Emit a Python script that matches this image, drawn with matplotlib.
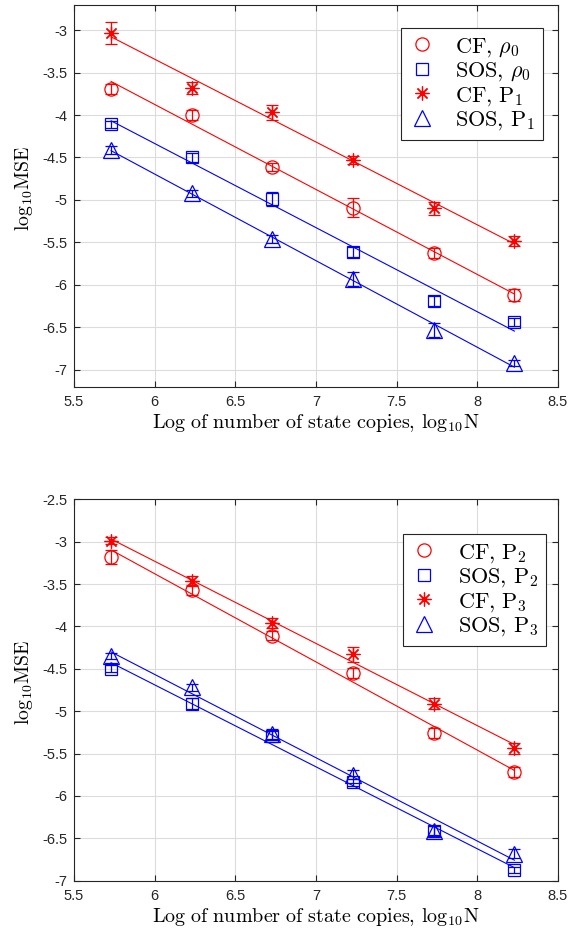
import numpy as np
import matplotlib
matplotlib.use('Agg')
import matplotlib.pyplot as plt

plt.rcParams['mathtext.fontset'] = 'cm'
plt.rcParams['axes.unicode_minus'] = False
plt.rcParams['font.family'] = ['Liberation Sans', 'DejaVu Sans']

# log10 of number of copies
logN = [5.73, 6.23, 6.73, 7.23, 7.73, 8.23]

# top panel: rho_0 and P_1
cf_rho0 = [-3.69, -4.00, -4.61, -5.09, -5.63, -6.12]
cf_rho0_err = [0.06, 0.06, 0.05, 0.11, 0.06, 0.07]
sos_rho0 = [-4.11, -4.50, -4.99, -5.61, -6.19, -6.44]
sos_rho0_err = [0.04, 0.05, 0.08, 0.06, 0.06, 0.05]
cf_p1 = [-3.03, -3.68, -3.97, -4.53, -5.10, -5.48]
cf_p1_err = [0.13, 0.07, 0.09, 0.05, 0.08, 0.06]
sos_p1 = [-4.41, -4.92, -5.46, -5.93, -6.53, -6.92]
sos_p1_err = [0.05, 0.04, 0.05, 0.08, 0.08, 0.04]

# bottom panel: P_2 and P_3
cf_p2 = [-3.18, -3.57, -4.11, -4.55, -5.26, -5.72]
cf_p2_err = [0.08, 0.06, 0.05, 0.06, 0.06, 0.06]
sos_p2 = [-4.50, -4.91, -5.29, -5.84, -6.41, -6.875]
sos_p2_err = [0.04, 0.07, 0.05, 0.04, 0.05, 0.04]
cf_p3 = [-2.99, -3.46, -3.96, -4.33, -4.91, -5.44]
cf_p3_err = [0.04, 0.06, 0.06, 0.09, 0.06, 0.06]
sos_p3 = [-4.35, -4.72, -5.27, -5.75, -6.41, -6.68]
sos_p3_err = [0.04, 0.04, 0.06, 0.05, 0.06, 0.05]

top_series = [
    (cf_rho0, cf_rho0_err, 'r', 'o', 9.5, r'$\mathrm{CF},\,\rho_0$'),
    (sos_rho0, sos_rho0_err, 'b', 's', 8, r'$\mathrm{SOS},\,\rho_0$'),
    (cf_p1, cf_p1_err, 'r', (8, 2, 0), 10, r'$\mathrm{CF},\,\mathrm{P}_1$'),
    (sos_p1, sos_p1_err, 'b', '^', 11, r'$\mathrm{SOS},\,\mathrm{P}_1$'),
]
bottom_series = [
    (cf_p2, cf_p2_err, 'r', 'o', 9.5, r'$\mathrm{CF},\,\mathrm{P}_2$'),
    (sos_p2, sos_p2_err, 'b', 's', 8, r'$\mathrm{SOS},\,\mathrm{P}_2$'),
    (cf_p3, cf_p3_err, 'r', (8, 2, 0), 10, r'$\mathrm{CF},\,\mathrm{P}_3$'),
    (sos_p3, sos_p3_err, 'b', '^', 11, r'$\mathrm{SOS},\,\mathrm{P}_3$'),
]

axcol = '#262626'
fig = plt.figure(figsize=(5.68, 9.32), dpi=100)
ax1 = fig.add_axes([0.1303, 0.5851, 0.852, 0.4099])
ax2 = fig.add_axes([0.1303, 0.0551, 0.852, 0.4092])


def draw(ax, series, ylim, yticks, anchor):
    x = np.array(logN)
    for y, err, c, m, ms, lab in series:
        y = np.array(y)
        k = np.polyfit(x, y, 1)
        ax.plot(x, np.polyval(k, x), color=c, lw=0.8)
        ax.errorbar(x, y, yerr=err, fmt='none', ecolor=c, elinewidth=0.9, capsize=4, capthick=0.9)
        ax.plot(x, y, linestyle='none', marker=m, ms=ms, mfc='none', mec=c, mew=0.9, label=lab)
    ax.set_xlim(5.5, 8.5)
    ax.set_ylim(*ylim)
    ax.set_xticks([5.5, 6, 6.5, 7, 7.5, 8, 8.5])
    ax.set_xticklabels(['5.5', '6', '6.5', '7', '7.5', '8', '8.5'])
    ax.set_yticks(yticks)
    ax.set_yticklabels(['%g' % t for t in yticks])
    ax.grid(True, color='#dcdcdc', lw=0.8)
    ax.set_axisbelow(True)
    ax.tick_params(direction='in', top=True, right=True, labelsize=10.5, colors=axcol, length=4, width=0.8)
    ax.tick_params(axis='x', pad=6)
    ax.tick_params(axis='y', pad=5)
    for s in ax.spines.values():
        s.set_color(axcol)
        s.set_linewidth(0.8)
    ax.set_xlabel(r'$\mathrm{Log\ of\ number\ of\ state\ copies,\,log_{10}N}$', fontsize=14.5, labelpad=2)
    ax.set_ylabel(r'$\mathrm{log_{10}MSE}$', fontsize=14.3)
    ax.yaxis.set_label_coords(-0.08, 0.52)
    leg = ax.legend(loc='upper right', bbox_to_anchor=anchor, fontsize=16, fancybox=False,
                    edgecolor=axcol, framealpha=1, handlelength=1.2, handletextpad=0.9,
                    borderpad=0.35, labelspacing=0.08, borderaxespad=0)
    leg.get_frame().set_linewidth(0.8)


draw(ax1, top_series, (-7.2, -2.7), [-7, -6.5, -6, -5.5, -5, -4.5, -4, -3.5, -3], (0.969, 0.939))
draw(ax2, bottom_series, (-7, -2.5), [-7, -6.5, -6, -5.5, -5, -4.5, -4, -3.5, -3, -2.5], (0.975, 0.909))

fig.savefig('out.png', dpi=100)
